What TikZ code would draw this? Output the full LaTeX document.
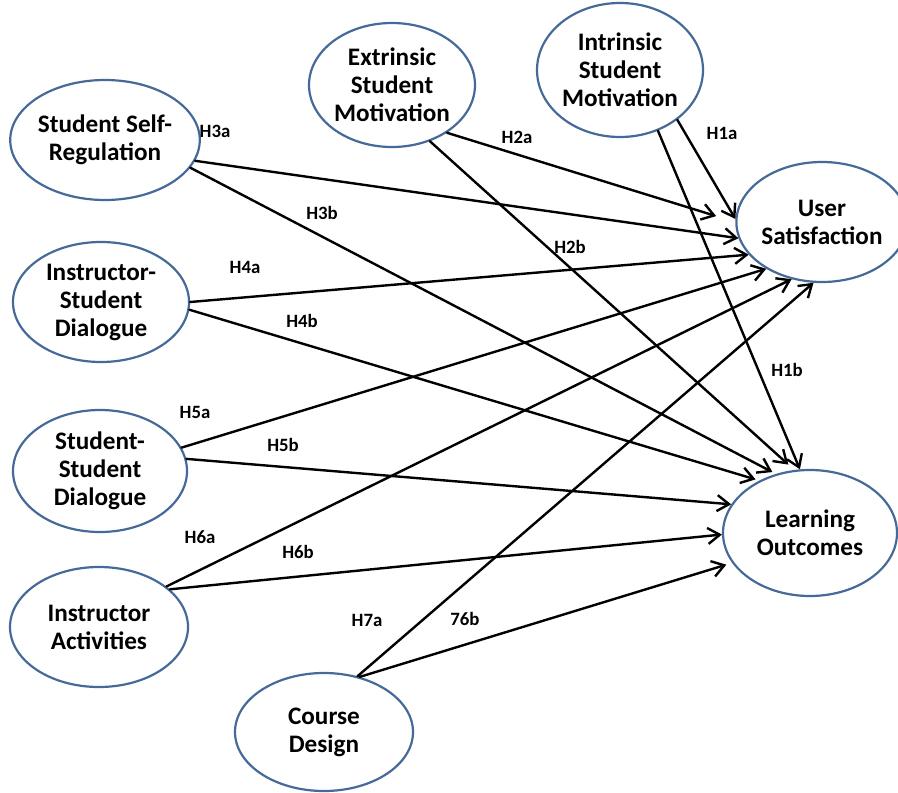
\documentclass[tikz,border=0pt]{standalone}
\usepackage{fontspec}
\setmainfont{Carlito}
\usetikzlibrary{shapes.geometric,arrows.meta}
\definecolor{ellblue}{RGB}{70,106,152}
\begin{document}
\begin{tikzpicture}[x=.5pt, y=-.5pt, line join=round, line cap=round,
	>={Straight Barb[length=6pt,width=8pt]},
	var/.style={ellipse, draw=ellblue, line width=1.1pt, inner sep=0pt, align=center, font=\bfseries\fontsize{12.6}{14}\selectfont},
	hyp/.style={inner sep=0pt, font=\bfseries\fontsize{9.4}{10}\selectfont}]
	\useasboundingbox (0,0) rectangle (898,792);
	% constructs
	\node[var, minimum width=82pt, minimum height=60pt] (ssr) at (105,140) {Student Self-\\Regulation};
	\node[var, minimum width=88pt, minimum height=60pt] (isd) at (101,302) {Instructor-\\Student\\Dialogue};
	\node[var, minimum width=87pt, minimum height=61pt] (ssd) at (100,471) {Student-\\Student\\Dialogue};
	\node[var, minimum width=89pt, minimum height=60pt] (ia) at (99,627) {Instructor\\Activities};
	\node[var, minimum width=89pt, minimum height=59pt] (cd) at (324,732) {Course\\Design};
	\node[var, minimum width=83pt, minimum height=62pt] (esm) at (392,85) {Extrinsic\\Student\\Motivation};
	\node[var, minimum width=83pt, minimum height=67pt] (ism) at (620,70) {Intrinsic\\Student\\Motivation};
	\node[var, minimum width=75pt, minimum height=60pt] (us) at (822,222) {User\\Satisfaction};
	\node[var, minimum width=87pt, minimum height=63pt] (lo) at (810,533) {Learning\\Outcomes};
	% paths
	\foreach \s/\a/\t/\b/\sh in {ism/-41/us/178/0, ism/-58/lo/99/0, esm/-41/us/180/10, esm/-56/lo/104/4,
		ssr/-13/us/191/0, ssr/-18/lo/120/2, isd/0/us/204/0, isd/-5/lo/134/2,
		ssd/16/us/220/0, ssd/8/lo/160/0, ia/31/us/242/0, ia/28/lo/181/0,
		cd/59/us/262/0, cd/57/lo/201/3}
		\draw[->, line width=1.2pt, shorten >=\sh pt] (\s.\a) -- (\t.\b);
	% hypotheses
	\foreach \n/\x/\y/\h in {h3a/215/131/H3a, h2a/517/137/H2a, h1a/722/133/H1a, h3b/322/213/H3b,
		h2b/570/247/H2b, h4a/245/267/H4a, h4b/302/321/H4b, h1b/787/370/H1b, h5a/195/412/H5a,
		h5b/283/445/H5b, h6a/200/537/H6a, h6b/298/552/H6b, h7a/367/620/H7a, h7b/465/619/76b}
		\node[hyp] (\n) at (\x,\y) {\h};
\end{tikzpicture}
\end{document}
